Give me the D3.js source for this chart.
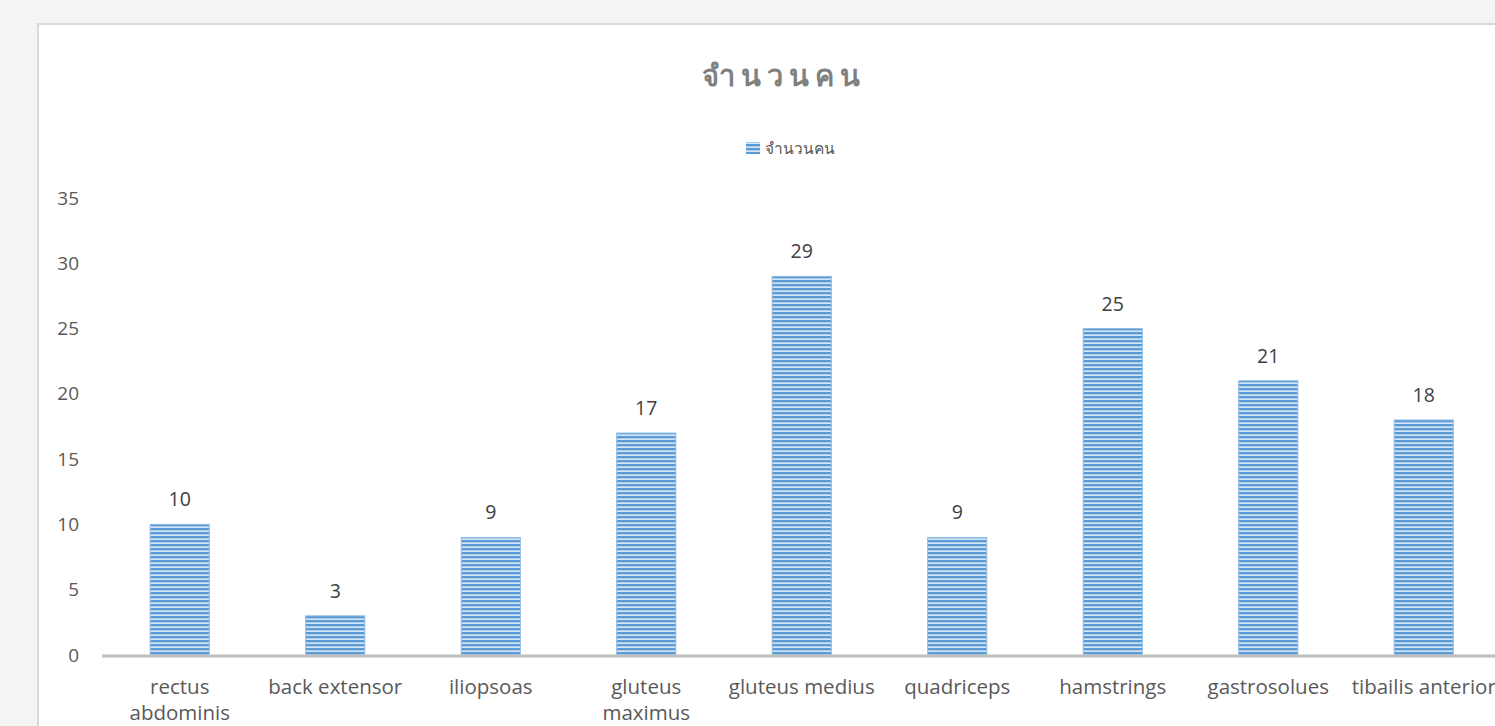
<!DOCTYPE html>
<html>
<head>
<meta charset="utf-8">
<script src="https://cdn.jsdelivr.net/npm/d3@7"></script>
<style>
  body { margin: 0; background: #f4f4f4; overflow: hidden; }
  svg { display: block; }
</style>
</head>
<body>
<div id="chart"></div>
<script>
var categories = [["rectus", "abdominis"], ["back extensor"], ["iliopsoas"], ["gluteus", "maximus"],
  ["gluteus medius"], ["quadriceps"], ["hamstrings"], ["gastrosolues"], ["tibailis anterior"]];
var values = [10, 3, 9, 17, 29, 9, 25, 21, 18];
var yTicks = [0, 5, 10, 15, 20, 25, 30, 35];
var title = "จำนวนคน";
var seriesName = "จำนวนคน";

var width = 1495, height = 726;
var plot = { left: 102, right: 1501.5, top: 198, bottom: 655 };
var font = "'Open Sans', 'Noto Sans', sans-serif";

var svg = d3.select("#chart").append("svg")
  .attr("width", width)
  .attr("height", height);

// striped fill like the excel bars
var defs = svg.append("defs");
var pat = defs.append("pattern")
  .attr("id", "stripes")
  .attr("patternUnits", "userSpaceOnUse")
  .attr("width", 8).attr("height", 4);
pat.append("rect").attr("width", 8).attr("height", 4).attr("fill", "#a8cbeb");
pat.append("rect").attr("y", 0).attr("width", 8).attr("height", 2).attr("fill", "#5b9bd5");
pat.append("rect").attr("y", 3).attr("width", 8).attr("height", 1).attr("fill", "#d6e6f5");

// chart area box
svg.append("rect")
  .attr("x", 38).attr("y", 24)
  .attr("width", 1500).attr("height", 760)
  .attr("fill", "#fff")
  .attr("stroke", "#d9d9d9")
  .attr("stroke-width", 2);

var x = d3.scaleBand()
  .domain(d3.range(categories.length))
  .range([plot.left, plot.right])
  .paddingInner(0.62)
  .paddingOuter(0.31);

var y = d3.scaleLinear()
  .domain([0, 35])
  .range([plot.bottom, plot.top]);

// title
svg.append("text")
  .attr("x", 784).attr("y", 86)
  .attr("text-anchor", "middle")
  .style("font-family", font)
  .style("font-size", "29px")
  .style("font-weight", "bold")
  .style("letter-spacing", "6px")
  .style("fill", "#808080")
  .text(title);

// legend
svg.append("rect")
  .attr("x", 746).attr("y", 142)
  .attr("width", 14).attr("height", 12)
  .attr("fill", "url(#stripes)");
svg.append("text")
  .attr("x", 765).attr("y", 154)
  .style("font-family", font)
  .style("font-size", "15.5px")
  .style("fill", "#595959")
  .text(seriesName);

// y axis labels
var yAxis = d3.axisLeft(y).tickValues(yTicks).tickSize(0).tickPadding(0);
var yg = svg.append("g")
  .attr("transform", "translate(79,0)")
  .call(yAxis);
yg.select(".domain").remove();
yg.selectAll("text")
  .style("font-family", font)
  .style("font-size", "19px")
  .style("fill", "#595959");

// bars
svg.append("g").selectAll("rect")
  .data(values)
  .enter()
  .append("rect")
  .attr("x", function(d, i) { return x(i); })
  .attr("y", function(d) { return y(d); })
  .attr("width", x.bandwidth())
  .attr("height", function(d) { return y(0) - y(d); })
  .attr("fill", "url(#stripes)")
  .attr("stroke", "#8fbbe3")
  .attr("stroke-width", 1);

// value labels
svg.append("g").selectAll("text")
  .data(values)
  .enter()
  .append("text")
  .attr("x", function(d, i) { return x(i) + x.bandwidth() / 2; })
  .attr("y", function(d) { return y(d) - 18; })
  .attr("text-anchor", "middle")
  .style("font-family", font)
  .style("font-size", "19.5px")
  .style("fill", "#404040")
  .text(function(d) { return d; });

// x axis line
svg.append("line")
  .attr("x1", plot.left).attr("x2", width)
  .attr("y1", y(0) + 1).attr("y2", y(0) + 1)
  .attr("stroke", "#bfbfbf")
  .attr("stroke-width", 3);

// category labels
var cat = svg.append("g").selectAll("text")
  .data(categories)
  .enter()
  .append("text")
  .attr("x", function(d, i) { return x(i) + x.bandwidth() / 2; })
  .attr("y", 694)
  .attr("text-anchor", "middle")
  .style("font-family", font)
  .style("font-size", "20.5px")
  .style("fill", "#595959");
cat.selectAll("tspan")
  .data(function(d) { return d; })
  .enter()
  .append("tspan")
  .attr("x", function() { return d3.select(this.parentNode).attr("x"); })
  .attr("dy", function(d, i) { return i ? 26 : 0; })
  .text(function(d) { return d; });
</script>
</body>
</html>
